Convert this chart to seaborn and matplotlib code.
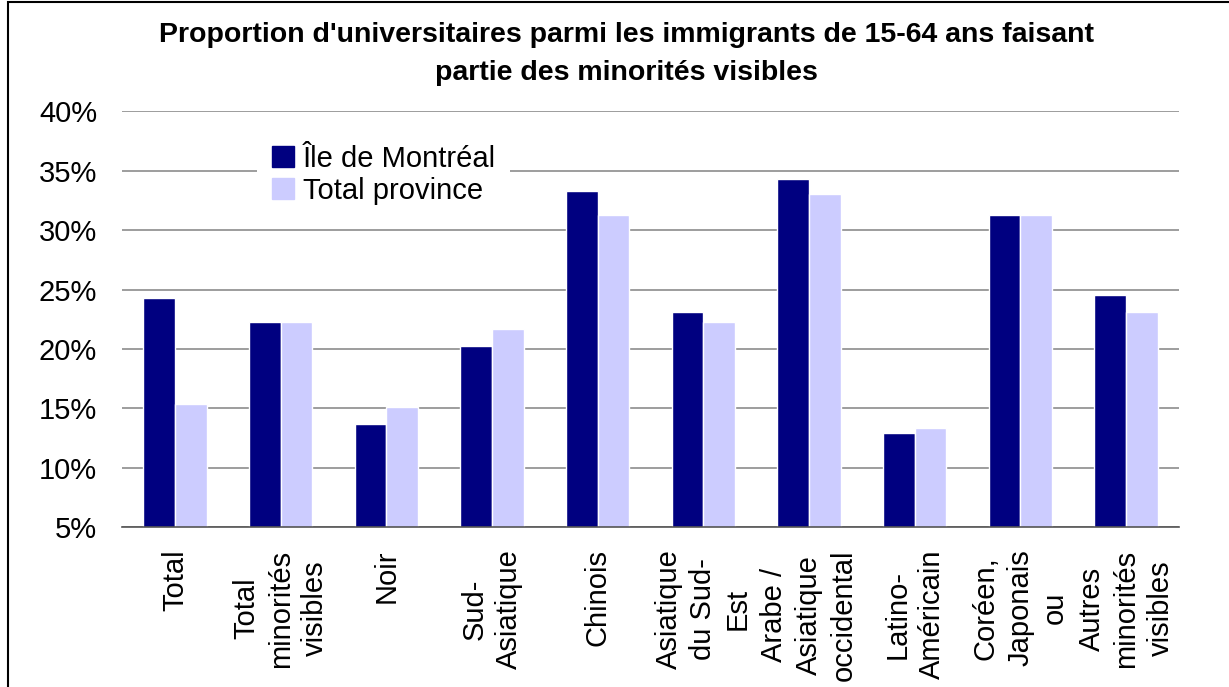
import matplotlib
matplotlib.use('Agg')
import matplotlib.pyplot as plt
import matplotlib.ticker as mticker
import matplotlib.patches as mpatches
import numpy as np
import pandas as pd
import seaborn as sns

# Data
categories = [
    'Total',
    'Total\nminorités\nvisibles',
    'Noir',
    'Sud-\nAsiatique',
    'Chinois',
    'Asiatique\ndu Sud-\nEst',
    'Arabe /\nAsiatique\noccidental',
    'Latino-\nAméricain',
    'Coréen,\nJaponais\nou',
    'Autres\nminorités\nvisibles',
]
montreal = [24.3, 22.3, 13.7, 20.25, 33.3, 23.1, 34.3, 12.9, 31.3, 24.55]
province = [15.4, 22.3, 15.1, 21.7, 31.3, 22.3, 33.0, 13.35, 31.3, 23.1]
series_names = ['Île de Montréal', 'Total province']
colors = ['#000080', '#CCCCFF']

df = pd.DataFrame({
    'cat': categories * 2,
    'serie': [series_names[0]] * len(categories) + [series_names[1]] * len(categories),
    'val': [v / 100 for v in montreal + province],
})

sns.set_style('white')
plt.rcParams['font.family'] = ['Liberation Sans', 'DejaVu Sans']
plt.rcParams['text.color'] = 'black'
plt.rcParams['xtick.color'] = 'black'
plt.rcParams['ytick.color'] = 'black'

fig = plt.figure(figsize=(12.29, 6.87), dpi=100)
ax = fig.add_axes([0.0993, 0.2325, 0.8600, 0.6055])

sns.barplot(data=df, x='cat', y='val', hue='serie', palette=colors,
            width=0.6, gap=0, saturation=1, ax=ax, zorder=2)

ax.set_ylim(0.05, 0.40)
ax.set_xlim(-0.5, len(categories) - 0.5)
ax.yaxis.set_major_locator(mticker.MultipleLocator(0.05))
ax.yaxis.set_major_formatter(mticker.PercentFormatter(1.0, decimals=0))
ax.grid(axis='y', color='#8c8c8c', linewidth=1.2, zorder=0)
ax.set_axisbelow(True)

for s in ['top', 'right', 'left']:
    ax.spines[s].set_visible(False)
ax.spines['bottom'].set_color('#555555')
ax.spines['bottom'].set_linewidth(1.2)

ax.tick_params(axis='y', length=0, pad=18, labelsize=21)
ax.set_xticks(range(len(categories)))
ax.set_xticklabels(categories, rotation=90, fontsize=21, linespacing=1.3,
                   multialignment='center')
ax.tick_params(axis='x', which='major', length=0, pad=16)
ax.set_xticks(np.arange(-0.5, len(categories), 1.0), minor=True)
ax.tick_params(axis='x', which='minor', length=8, width=1.2, color='#555555',
               direction='out')
ax.set_xlabel('')
ax.set_ylabel('')

handles = [mpatches.Patch(color=c) for c in colors]
leg = ax.legend(handles, series_names, loc='upper left',
                bbox_to_anchor=(0.128, 0.955), fontsize=21, frameon=True,
                handlelength=0.75, handleheight=0.75, handletextpad=0.3,
                labelspacing=0.15, borderpad=0.5, borderaxespad=0)
leg.get_frame().set_facecolor('white')
leg.get_frame().set_edgecolor('none')
leg.get_frame().set_alpha(1)

fig.text(0.51, 1 - 54 / 687,
         "Proportion d'universitaires parmi les immigrants de 15-64 ans faisant\npartie des minorités visibles",
         ha='center', va='center', fontsize=20.5, fontweight='bold', linespacing=1.55)

# outer border of the chart
fig.patches.append(mpatches.Rectangle((8 / 1229, -0.05), 1.1, 1 - 2 / 687 + 0.05,
                                      transform=fig.transFigure, fill=False,
                                      edgecolor='black', linewidth=1.5))

fig.savefig('out.png', dpi=100)
